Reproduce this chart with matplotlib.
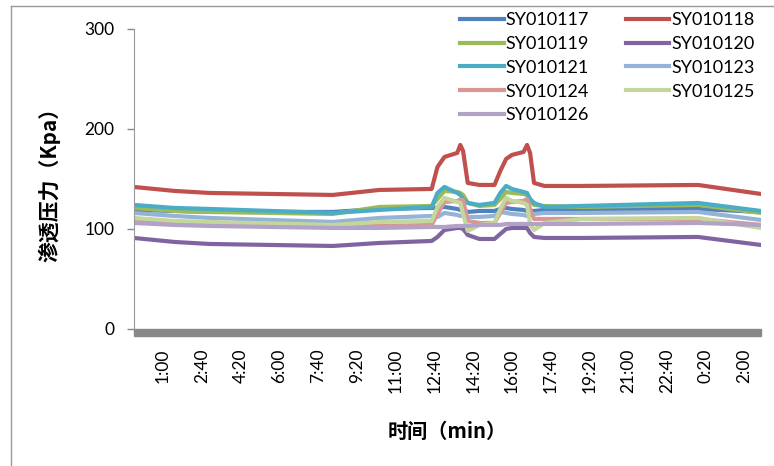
import matplotlib
matplotlib.use("Agg")
import matplotlib.pyplot as plt
from matplotlib.lines import Line2D
from matplotlib.patches import Rectangle
import matplotlib.transforms as mtransforms

plt.rcParams["font.family"] = ["Lato", "Noto Sans CJK SC", "DejaVu Sans"]

# time in hours from 0:00 of the first day
hours = [-0.25, 1.5, 3.0, 8.3, 10.3, 12.55, 12.8, 13.1, 13.65, 13.78, 13.9, 14.1, 14.6,
         15.25, 15.5, 15.75, 16.0, 16.5, 16.65, 16.78, 16.95, 17.4, 19.0, 24.0, 26.7]

sy117 = [119, 118, 117, 117, 120, 121, 121, 122, 120, 119, 118, 117, 118,
         118, 120, 121, 120, 119, 118, 118, 118, 119, 120, 120, 117]
sy118 = [142, 138, 136, 134, 139, 140, 162, 172, 176, 184, 178, 146, 144,
         144, 158, 170, 174, 177, 184, 176, 146, 143, 143, 144, 135]
sy119 = [121, 118, 117, 115, 122, 123, 130, 138, 137, 136, 134, 126, 123,
         124, 130, 137, 136, 135, 134, 128, 124, 123, 122, 124, 116]
sy120 = [91, 87, 85, 83, 86, 88, 92, 99, 101, 101, 100, 94, 90,
         90, 95, 100, 101, 101, 101, 96, 92, 91, 91, 92, 84]
sy121 = [124, 121, 120, 116, 119, 122, 136, 142, 136, 134, 130, 126, 124,
         126, 136, 143, 140, 137, 136, 130, 126, 122, 123, 126, 118]
sy123 = [116, 113, 111, 107, 111, 113, 112, 116, 114, 113, 113, 112, 112,
         113, 117, 116, 115, 114, 113, 114, 115, 116, 116, 117, 109]
sy124 = [108, 106, 105, 103, 103, 104, 115, 127, 128, 129, 129, 108, 106,
         106, 116, 126, 127, 128, 130, 120, 110, 110, 110, 110, 104]
sy125 = [111, 108, 107, 104, 107, 108, 122, 131, 127, 126, 115, 98, 104,
         106, 120, 131, 128, 126, 124, 105, 99, 106, 110, 111, 101]
sy126 = [106, 104, 103, 101, 101, 102, 102, 102, 103, 103, 103, 103, 104,
         104, 104, 105, 105, 105, 105, 105, 105, 105, 105, 106, 104]

names = ["SY010117", "SY010118", "SY010119", "SY010120", "SY010121",
         "SY010123", "SY010124", "SY010125", "SY010126"]
series = [sy117, sy118, sy119, sy120, sy121, sy123, sy124, sy125, sy126]
colors = ["#4F81BD", "#C0504D", "#9BBB59", "#8064A2", "#4BACC6",
          "#95B3D7", "#D99694", "#C3D69B", "#B3A2C7"]

tick_labels = ["1:00", "2:40", "4:20", "6:00", "7:40", "9:20", "11:00", "12:40",
               "14:20", "16:00", "17:40", "19:20", "21:00", "22:40", "0:20", "2:00"]
tick_pos = [1 + i * 100 / 60 for i in range(len(tick_labels))]

fig = plt.figure(figsize=(7.74, 4.66), dpi=100)
ax = fig.add_axes([0.173, 0.294, 0.810, 0.644])

lines = []
for name, vals, c in zip(names, series, colors):
    ln, = ax.plot(hours, vals, color=c, lw=3.0, label=name, solid_joinstyle="round")
    lines.append(ln)

ax.set_xlim(-0.25, 26.7)
ax.set_ylim(0, 300)
ax.set_yticks([0, 100, 200, 300])
ax.set_xticks(tick_pos)
ax.set_xticklabels(tick_labels, rotation=90)
ax.tick_params(axis="x", length=0, pad=14, labelsize=12.5)
ax.tick_params(axis="y", length=5, width=1, color="#888888", pad=9, labelsize=12.5)

for s in ["top", "right", "bottom"]:
    ax.spines[s].set_visible(False)
ax.spines["left"].set_color("#999999")

# thick gray floor under the plot
trans = mtransforms.blended_transform_factory(ax.transAxes, ax.transAxes)
ax.add_patch(Rectangle((0, -0.024), 1, 0.024, transform=trans, color="#888888",
                       clip_on=False, zorder=3))

ax.set_ylabel("渗透压力（Kpa）", fontsize=15, fontweight="bold",
              family=["Noto Sans CJK SC", "DejaVu Sans"], labelpad=17)
ax.set_xlabel("时间（min）", fontsize=14.5, fontweight="bold",
              family=["Noto Sans CJK SC", "DejaVu Sans"], labelpad=20)

order = [0, 2, 4, 6, 8, 1, 3, 5, 7]
fig.legend([lines[i] for i in order], [names[i] for i in order], ncol=2,
           loc="upper left", bbox_to_anchor=(0.583, 0.993), frameon=False,
           fontsize=13, handlelength=2.4, handletextpad=0.1, columnspacing=2.05,
           labelspacing=0.43, borderaxespad=0.1)

# chart area border
fig.add_artist(Line2D([11 / 774, 11 / 774], [0, 1 - 6 / 466], color="#999999", lw=1))
fig.add_artist(Line2D([11 / 774, 1], [1 - 6 / 466, 1 - 6 / 466], color="#999999", lw=1))

fig.savefig("out.png", dpi=100)
